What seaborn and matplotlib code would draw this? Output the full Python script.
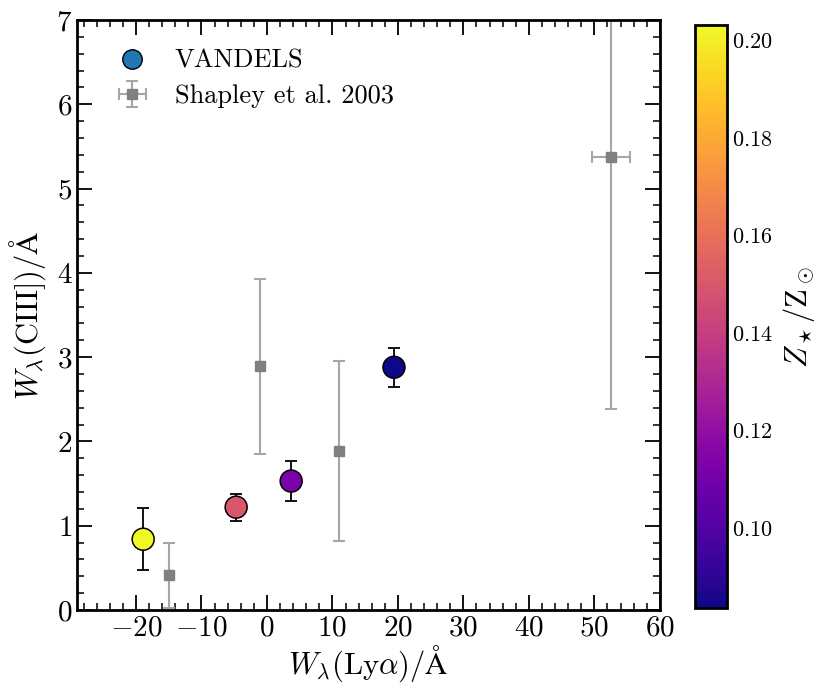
import numpy as np
import matplotlib
matplotlib.use("Agg")
import matplotlib.pyplot as plt
import seaborn as sns
from matplotlib.lines import Line2D
from matplotlib.ticker import MultipleLocator

# VANDELS stacks
vandels_lya = [-18.9, -4.7, 3.7, 19.4]
vandels_ciii = [0.84, 1.22, 1.53, 2.88]
vandels_err = [0.37, 0.16, 0.24, 0.23]
vandels_z = [0.2031, 0.150, 0.113, 0.0836]

# Shapley et al. 2003 quartiles
shapley_lya = [-15.0, -1.1, 11.0, 52.6]
shapley_ciii = [0.41, 2.89, 1.89, 5.37]
shapley_yerr = [0.39, 1.04, 1.07, 2.99]
shapley_xerr = [0.0, 0.0, 0.0, 2.9]

sns.set_style("ticks")
plt.rcParams['font.family'] = 'serif'
plt.rcParams['font.serif'] = ['cmr10']
plt.rcParams['mathtext.fontset'] = 'cm'
plt.rcParams['axes.formatter.use_mathtext'] = True
plt.rcParams['axes.unicode_minus'] = True
for k in ['text.color', 'axes.labelcolor', 'xtick.color', 'ytick.color', 'axes.edgecolor']:
    plt.rcParams[k] = 'black'

fig = plt.figure(figsize=(8.3, 6.99), dpi=100)
ax = fig.add_axes([0.0928, 0.1273, 0.7022, 0.8441])
cax = fig.add_axes([0.837, 0.130, 0.0386, 0.834])

vmin, vmax = min(vandels_z), max(vandels_z)
cmap = plt.get_cmap('plasma')
norm = plt.Normalize(vmin, vmax)

shap = ax.errorbar(shapley_lya, shapley_ciii, yerr=shapley_yerr, xerr=shapley_xerr,
                   fmt='s', color='grey', mec='grey', ecolor='#a6a6a6', ms=6.5,
                   elinewidth=1.5, capsize=4, capthick=1.5, zorder=1)
ax.errorbar(vandels_lya, vandels_ciii, yerr=vandels_err, fmt='none',
            ecolor='black', elinewidth=1.3, capsize=4, capthick=1.3, zorder=2)
sns.scatterplot(x=vandels_lya, y=vandels_ciii, hue=vandels_z, palette='plasma',
                hue_norm=(vmin, vmax), s=250, edgecolor='black', linewidth=1.1,
                legend=False, ax=ax, zorder=3)

ax.set_xlim(-29, 60)
ax.set_ylim(0, 7)
ax.xaxis.set_major_locator(MultipleLocator(10))
ax.xaxis.set_minor_locator(MultipleLocator(2))
ax.yaxis.set_major_locator(MultipleLocator(1))
ax.yaxis.set_minor_locator(MultipleLocator(0.2))
ax.tick_params(which='both', direction='in', top=True, right=True, labelsize=21)
ax.tick_params(which='major', length=11, width=1.3)
ax.tick_params(which='minor', length=5, width=1.1)
for sp in ax.spines.values():
    sp.set_linewidth(2)
ax.set_xlabel(r'$W_\lambda(\mathrm{Ly}\alpha)/\mathrm{\AA}$', fontsize=22, labelpad=2)
ax.set_ylabel(r'$W_\lambda(\mathrm{CIII]})/\mathrm{\AA}$', fontsize=22, labelpad=6)

handles = [
    Line2D([], [], marker='o', ls='none', color='#1f77b4', mec='black', ms=14),
    shap,
]
ax.legend(handles, ['VANDELS', 'Shapley et al. 2003'], loc='upper left',
          frameon=False, fontsize=19, handletextpad=0.6,
          borderaxespad=0.7, labelspacing=0.45)

sm = plt.cm.ScalarMappable(norm=norm, cmap=cmap)
cb = fig.colorbar(sm, cax=cax)
cb.set_ticks([0.10, 0.12, 0.14, 0.16, 0.18, 0.20])
cb.ax.tick_params(which='major', direction='in', length=8, width=1.3, labelsize=16,
                  left=True, right=True)
cb.ax.minorticks_off()
cb.outline.set_linewidth(2)
cb.set_label(r'$Z_\star/\mathrm{Z}_\odot$', fontsize=22, labelpad=6)

fig.savefig('out.png', dpi=100)
